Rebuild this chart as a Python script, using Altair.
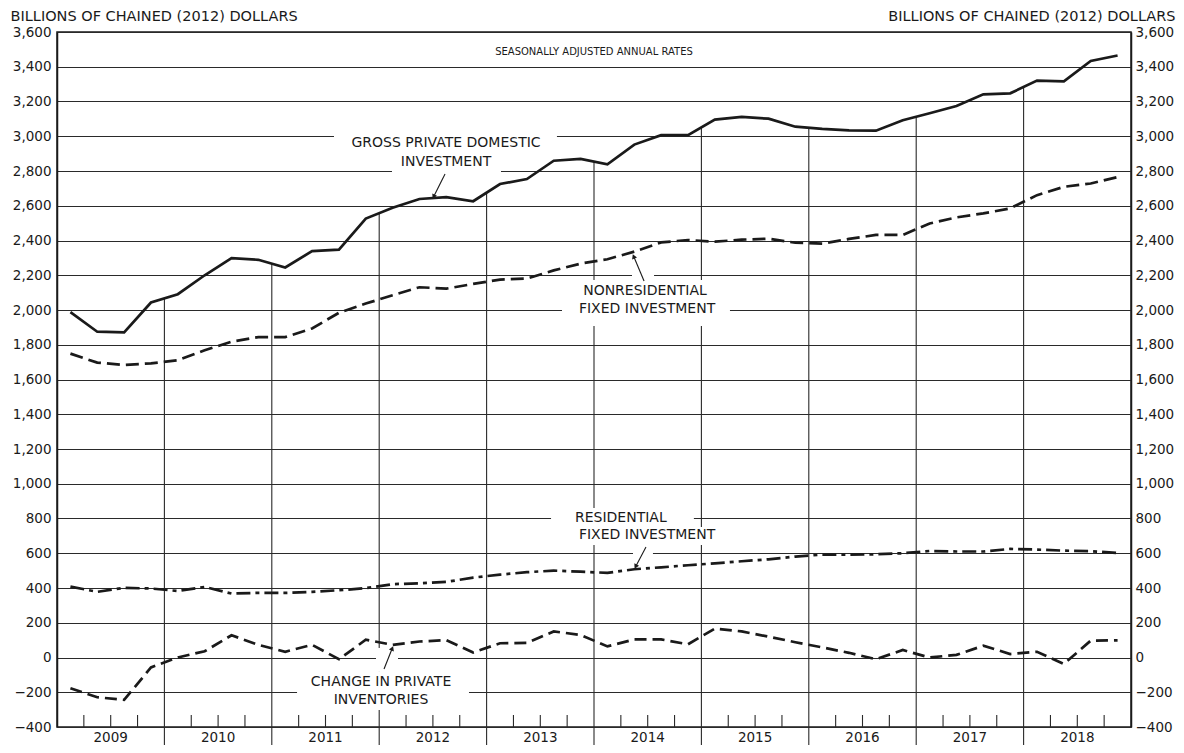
import math
import altair as alt
import pandas as pd

# ---------------- data (billions of chained 2012 dollars, quarterly, SAAR) ----------------
years = list(range(2009, 2019))
quarter_index = list(range(40))

gross_private_domestic = [1988, 1875, 1871, 2043, 2091, 2200, 2299, 2289,
                          2245, 2339, 2347, 2526, 2589, 2639, 2650, 2626,
                          2725, 2754, 2859, 2870, 2839, 2952, 3006, 3006,
                          3096, 3111, 3101, 3055, 3042, 3034, 3032, 3092,
                          3132, 3174, 3241, 3247, 3320, 3316, 3433, 3465]
nonresidential_fixed = [1749, 1697, 1684, 1693, 1711, 1768, 1818, 1844,
                        1844, 1894, 1984, 2037, 2085, 2131, 2123, 2150,
                        2175, 2181, 2228, 2267, 2292, 2336, 2389, 2403,
                        2393, 2405, 2410, 2387, 2382, 2409, 2432, 2432,
                        2498, 2533, 2556, 2585, 2661, 2709, 2728, 2765]
residential_fixed = [408, 378, 401, 397, 383, 406, 368, 372,
                     372, 378, 387, 399, 422, 427, 435, 460,
                     477, 491, 500, 494, 487, 508, 519, 531,
                     542, 554, 565, 581, 592, 592, 594, 600,
                     613, 610, 610, 625, 621, 615, 612, 602]
inventories = [-177, -229, -244, -57, 0, 36, 128, 73,
               33, 73, -10, 102, 73, 92, 100, 29,
               82, 84, 150, 130, 64, 104, 104, 76,
               166, 150, 120, 88, 58, 27, -10, 43,
               0, 15, 68, 20, 33, -37, 97, 99]

y_ticks = list(range(-400, 3601, 200))

# annotation texts (positions in data units: years / billions)
label_text = ["GROSS PRIVATE DOMESTIC", "INVESTMENT",
              "NONRESIDENTIAL", "FIXED INVESTMENT",
              "RESIDENTIAL", "FIXED INVESTMENT",
              "CHANGE IN PRIVATE", "INVENTORIES"]
label_x = [2012.622, 2012.622, 2014.475, 2014.494, 2014.250, 2014.494, 2012.017, 2012.017]
label_y = [2961, 2852, 2109, 2006, 803, 705, -141, -245]

# white knock-out boxes behind the labels
box_x1 = [2011.579, 2012.119, 2013.702, 2014.354, 2013.600, 2013.700, 2014.363, 2011.235, 2011.970]
box_x2 = [2013.655, 2013.134, 2015.266, 2014.559, 2014.930, 2015.266, 2014.549, 2012.836, 2012.175]
box_y1 = [2909, 2783, 1908, 2167, 751, 647, 561, -302, -83]
box_y2 = [3019, 2909, 2173, 2230, 860, 751, 641, -83, 55]

# arrows (start -> tip)
arrow_x1 = [2012.613, 2014.466, 2014.484, 2012.045]
arrow_y1 = [2783, 2167, 636, -66]
arrow_x2 = [2012.510, 2014.372, 2014.391, 2012.119]
arrow_y2 = [2656, 2305, 527, 49]

# ---------------- layout ----------------
W, H = 1074, 695
PX_PER_YEAR = W / 10.0
PX_PER_UNIT = H / 4000.0
FONT = "DejaVu Sans"
INK = "#1a1a1a"
GRID = "#2a2a2a"

xq = [2009 + (i + 0.5) / 4 for i in quarter_index]
xs = alt.Scale(domain=[2009, 2019], nice=False, zero=False)
ys = alt.Scale(domain=[-400, 3600], nice=False, zero=False)

def series_df(vals):
    return pd.DataFrame({"x": xq, "v": vals})

left_axis = alt.Axis(values=y_ticks, format=",.0f", grid=True, gridColor=GRID, gridWidth=1.1,
                     ticks=False, domain=True, domainColor=INK, domainWidth=1.5,
                     labelFontSize=13.5, labelPadding=6, labelColor=INK, labelFont=FONT,
                     title="BILLIONS OF CHAINED (2012) DOLLARS", titleAngle=0,
                     titleX=-47, titleY=-12, titleAlign="left", titleBaseline="alphabetic",
                     titleFontSize=14.5, titleFontWeight="normal", titleColor=INK, titleFont=FONT)
right_axis = alt.Axis(values=y_ticks, format=",.0f", grid=False, orient="right",
                      ticks=False, domain=True, domainColor=INK, domainWidth=1.5,
                      labelFontSize=13.5, labelPadding=4, labelColor=INK, labelFont=FONT,
                      title="BILLIONS OF CHAINED (2012) DOLLARS", titleAngle=0,
                      titleX=44, titleY=-12, titleAlign="right", titleBaseline="alphabetic",
                      titleFontSize=14.5, titleFontWeight="normal", titleColor=INK, titleFont=FONT)

# year boundary rules rising to the GPDI line
bounds = years[1:]
bound_top = [(gross_private_domestic[4 * k - 1] + gross_private_domestic[4 * k]) / 2
             for k in range(1, 10)]
vrules = alt.Chart(pd.DataFrame({"x": bounds, "top": bound_top})).mark_rule(
    color=GRID, strokeWidth=1.1).encode(
    x=alt.X("x:Q", scale=xs, axis=None),
    y=alt.Y("top:Q", scale=ys, axis=None),
    y2=alt.value(H + 18),
)

qticks = alt.Chart(pd.DataFrame({"x": [y + q / 4 for y in years for q in (1, 2, 3)]})).mark_rule(
    color=GRID, strokeWidth=1.1).encode(
    x=alt.X("x:Q", scale=xs, axis=None),
    y=alt.value(H),
    y2=alt.value(H - 12),
)

year_labels = alt.Chart(pd.DataFrame({"x": [y + 0.5 for y in years], "t": [str(y) for y in years]})).mark_text(
    font=FONT, fontSize=13.5, color=INK, baseline="middle").encode(
    x=alt.X("x:Q", scale=xs, axis=None),
    y=alt.value(H + 11),
    text="t:N",
)

boxes = alt.Chart(pd.DataFrame({"x1": box_x1, "x2": box_x2, "y1": box_y1, "y2": box_y2})).mark_rect(
    color="white").encode(
    x=alt.X("x1:Q", scale=xs, axis=None), x2="x2:Q",
    y=alt.Y("y1:Q", scale=ys, axis=None), y2="y2:Q",
)

gpdi = alt.Chart(series_df(gross_private_domestic)).mark_line(
    color=INK, strokeWidth=2.7, strokeJoin="miter").encode(
    x=alt.X("x:Q", scale=xs, axis=None),
    y=alt.Y("v:Q", scale=ys, axis=left_axis),
)
nfi = alt.Chart(series_df(nonresidential_fixed)).mark_line(
    color=INK, strokeWidth=2.7, strokeDash=[13, 6]).encode(
    x=alt.X("x:Q", scale=xs, axis=None),
    y=alt.Y("v:Q", scale=ys, axis=right_axis),
)
res = alt.Chart(series_df(residential_fixed)).mark_line(
    color=INK, strokeWidth=2.7, strokeDash=[14, 5, 4, 5]).encode(
    x=alt.X("x:Q", scale=xs, axis=None),
    y=alt.Y("v:Q", scale=ys, axis=None),
)
inv = alt.Chart(series_df(inventories)).mark_line(
    color=INK, strokeWidth=2.7, strokeDash=[12, 6]).encode(
    x=alt.X("x:Q", scale=xs, axis=None),
    y=alt.Y("v:Q", scale=ys, axis=None),
)

labels = alt.Chart(pd.DataFrame({"x": label_x, "y": label_y, "t": label_text})).mark_text(
    font=FONT, fontSize=14, color=INK, baseline="middle", align="center").encode(
    x=alt.X("x:Q", scale=xs, axis=None),
    y=alt.Y("y:Q", scale=ys, axis=None),
    text="t:N",
)

seasonal = alt.Chart(pd.DataFrame({"x": [2014.0], "y": [3485], "t": ["SEASONALLY ADJUSTED ANNUAL RATES"]})).mark_text(
    font=FONT, fontSize=10, color=INK, baseline="middle", align="center").encode(
    x=alt.X("x:Q", scale=xs, axis=None),
    y=alt.Y("y:Q", scale=ys, axis=None),
    text="t:N",
)

angles = []
for a, b, c, d in zip(arrow_x1, arrow_y1, arrow_x2, arrow_y2):
    dx = (c - a) * PX_PER_YEAR
    dy = -(d - b) * PX_PER_UNIT
    angles.append(math.degrees(math.atan2(dx, -dy)) % 360)
arrow_df = pd.DataFrame({"x1": arrow_x1, "y1": arrow_y1, "x2": arrow_x2, "y2": arrow_y2, "ang": angles})
shafts = alt.Chart(arrow_df).mark_rule(color=INK, strokeWidth=1.1).encode(
    x=alt.X("x1:Q", scale=xs, axis=None), x2="x2:Q",
    y=alt.Y("y1:Q", scale=ys, axis=None), y2="y2:Q",
)
heads = alt.Chart(arrow_df).mark_point(shape="triangle", filled=True, size=28, color=INK, opacity=1).encode(
    x=alt.X("x2:Q", scale=xs, axis=None),
    y=alt.Y("y2:Q", scale=ys, axis=None),
    angle=alt.Angle("ang:Q", scale=None),
)

chart = alt.layer(
    vrules, qticks, year_labels, boxes, gpdi, nfi, res, inv, labels, seasonal, shafts, heads
).resolve_scale(y="shared", x="shared").resolve_axis(y="independent").properties(
    width=W, height=H,
    autosize=alt.AutoSizeParams(type="none"),
    padding={"left": 49, "top": 24, "right": 45, "bottom": 18},
    background="white",
).configure_view(stroke=INK, strokeWidth=1.5).configure_text(font=FONT)

chart.save("out.html", embed_options={"renderer": "svg", "actions": False})
